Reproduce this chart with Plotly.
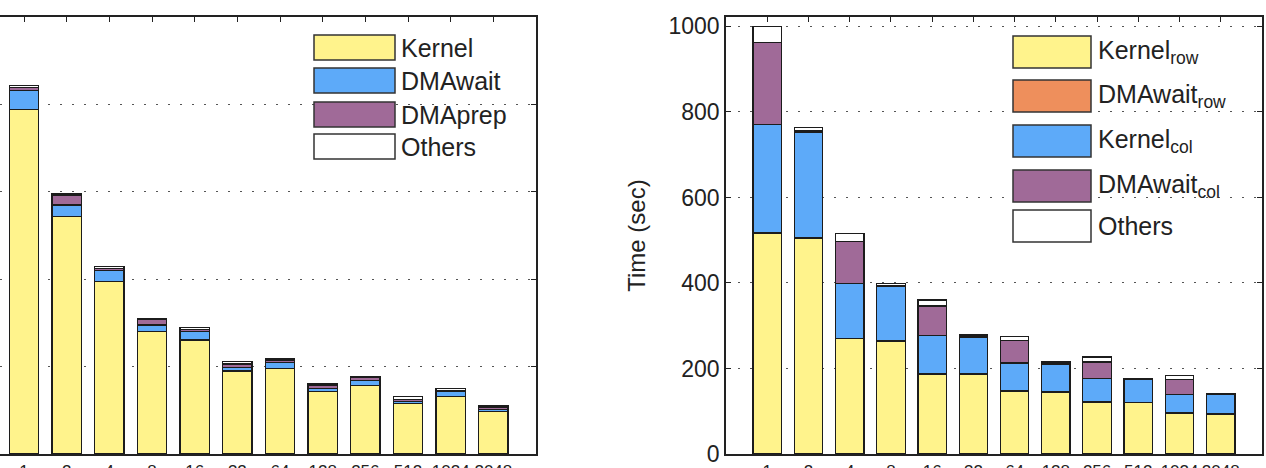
import plotly.graph_objects as go

# ---------------- data ----------------
categories = [1, 2, 3, 4, 5, 6, 7, 8, 9, 10, 11, 12]
tick_labels = ["1", "2", "4", "8", "16", "32", "64", "128", "256", "512", "1024", "2048"]

# left panel
left_kernel = [789, 543, 394, 281, 261, 190, 196, 143, 157, 116, 131, 97]
left_dmawait = [42, 27, 26, 14, 19, 8, 13, 7, 12, 5, 12, 5]
left_dmaprep = [8, 21, 5, 12, 5, 8, 6, 8, 6, 4, 3, 4]
left_others = [5, 4, 4, 3, 4, 5, 4, 4, 3, 6, 4, 4]

# right panel
right_kernel_row = [516, 504, 270, 264, 187, 186, 147, 144, 121, 120, 95, 93]
right_dmawait_row = [1, 1, 1, 1, 1, 1, 1, 1, 1, 1, 1, 1]
right_kernel_col = [254, 248, 127, 126, 90, 86, 65, 64, 54, 53, 43, 45]
right_dmawait_col = [191, 3, 99, 4, 68, 3, 52, 3, 39, 2, 35, 1]
right_others = [38, 8, 18, 4, 14, 3, 10, 3, 12, 1, 9, 1]

y_ticks = [0, 200, 400, 600, 800, 1000]

# ---------------- style ----------------
YELLOW = "#FFF38C"
BLUE = "#5DAAF9"
PURPLE = "#A06A98"
ORANGE = "#EE8F5C"
WHITE = "#FFFFFF"
EDGE = "#1c1c1c"
FONT = "Liberation Sans, Arial, sans-serif"

W, H = 1266, 468
ML, MR, MT, MB = 0, 4, 17, 14
PW, PH = W - ML - MR, H - MT - MB


def px_x(px):
    return (px - ML) / PW


def px_y(py):
    return 1 - (py - MT) / PH


fig = go.Figure()


def add_bar(x, y, color, xa, ya, name):
    fig.add_trace(go.Bar(
        x=x, y=y, name=name, xaxis=xa, yaxis=ya,
        marker=dict(color=color, line=dict(color=EDGE, width=1.2)),
        width=0.69, showlegend=False,
    ))


add_bar(categories, left_kernel, YELLOW, "x", "y", "Kernel")
add_bar(categories, left_dmawait, BLUE, "x", "y", "DMAwait")
add_bar(categories, left_dmaprep, PURPLE, "x", "y", "DMAprep")
add_bar(categories, left_others, WHITE, "x", "y", "Others")

add_bar(categories, right_kernel_row, YELLOW, "x2", "y2", "Kernel_row")
add_bar(categories, right_dmawait_row, ORANGE, "x2", "y2", "DMAwait_row")
add_bar(categories, right_kernel_col, BLUE, "x2", "y2", "Kernel_col")
add_bar(categories, right_dmawait_col, PURPLE, "x2", "y2", "DMAwait_col")
add_bar(categories, right_others, WHITE, "x2", "y2", "Others")

# invisible trace to activate the mirrored right axis on the left panel
fig.add_trace(go.Scatter(x=[categories[0]], y=[0], xaxis="x", yaxis="y3",
                         mode="markers", marker=dict(opacity=0), showlegend=False,
                         hoverinfo="skip"))

left_dom = [px_x(0), px_x(536)]
right_dom = [px_x(726), px_x(1262)]

xcommon = dict(
    tickmode="array", tickvals=categories, ticktext=tick_labels, tickangle=0,
    ticks="inside", ticklen=5, tickcolor="#222", showline=True, linecolor="#222",
    linewidth=1.5, mirror="ticks", showgrid=False, zeroline=False,
    tickfont=dict(family=FONT, size=17, color="#222"), layer="below traces",
    automargin=False, ticklabelstandoff=1,
)

fig.update_layout(
    width=W, height=H,
    margin=dict(l=ML, r=MR, t=MT, b=MB, autoexpand=False),
    paper_bgcolor="white", plot_bgcolor="white",
    barmode="stack", showlegend=False,
    font=dict(family=FONT, color="#222"),
    xaxis=dict(domain=left_dom, range=[0.4375, 13], anchor="y", **xcommon),
    xaxis2=dict(domain=right_dom, range=[0, 13], anchor="y2", **xcommon),
    yaxis=dict(
        range=[0, 1000], tickvals=y_ticks, showticklabels=False, ticks="",
        showline=False, showgrid=True, gridcolor="#555", gridwidth=1,
        griddash="2px,10px", zeroline=False, anchor="x", automargin=False,
    ),
    yaxis3=dict(
        range=[0, 1000], tickvals=y_ticks, showticklabels=False, ticks="inside",
        ticklen=5, tickcolor="#222", overlaying="y", side="right", anchor="x",
        showline=True, linecolor="#222", linewidth=1.5, showgrid=False,
        zeroline=False, automargin=False,
    ),
    yaxis2=dict(
        range=[0, 1022], tickvals=y_ticks, ticks="inside", ticklen=5,
        tickcolor="#222", showline=True, linecolor="#222", linewidth=1.5,
        mirror="ticks", showgrid=True, gridcolor="#555", gridwidth=1,
        griddash="2px,10px", zeroline=False, anchor="x2", automargin=False,
        tickfont=dict(family=FONT, size=23, color="#222"),
        title=dict(text="Time (sec)", font=dict(family=FONT, size=24, color="#222"),
                   standoff=16),
        layer="below traces",
    ),
)

# ---------------- custom legends ----------------
def legend(entries, x0, x1, tops, height, tx, fsize):
    for (label, color), top in zip(entries, tops):
        fig.add_shape(type="rect", xref="paper", yref="paper",
                      x0=px_x(x0), x1=px_x(x1), y0=px_y(top + height), y1=px_y(top),
                      fillcolor=color, line=dict(color="#333", width=1.5))
        fig.add_annotation(xref="paper", yref="paper", x=px_x(tx),
                           y=px_y(top + height / 2), text=label, showarrow=False,
                           xanchor="left", yanchor="middle",
                           font=dict(family=FONT, size=fsize, color="#222"))


legend([("Kernel", YELLOW), ("DMAwait", BLUE), ("DMAprep", PURPLE), ("Others", WHITE)],
       314, 395, [35, 68, 102, 134], 25, 399, 25)

legend([("Kernel<sub>row</sub>", YELLOW), ("DMAwait<sub>row</sub>", ORANGE),
        ("Kernel<sub>col</sub>", BLUE), ("DMAwait<sub>col</sub>", PURPLE),
        ("Others", WHITE)],
       1013, 1091, [36, 80, 125, 170, 210], 32, 1096, 25)

fig.write_html("out.html")
